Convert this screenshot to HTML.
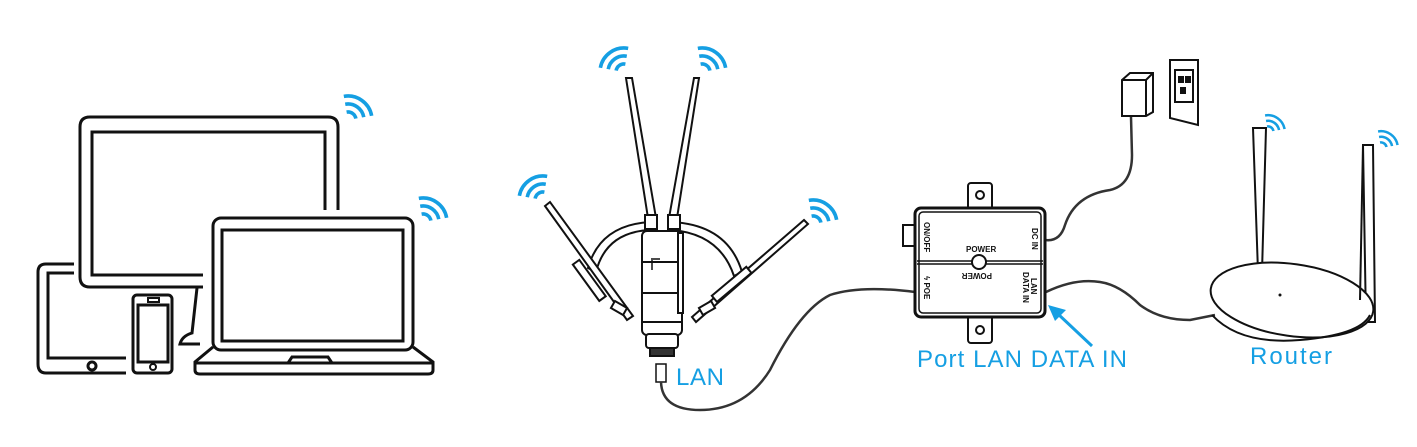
<!DOCTYPE html>
<html><head><meta charset="utf-8"><style>
html,body{margin:0;padding:0;background:#fff;}
svg{display:block;}
text{font-family:"Liberation Sans",sans-serif;}
</style></head><body>
<svg width="1417" height="447" viewBox="0 0 1417 447" xmlns="http://www.w3.org/2000/svg">
<defs>
<g id="wr" fill="none" stroke="#159fe3" stroke-width="3.6" stroke-linecap="butt">
<path d="M 0 -8 A 8 8 0 0 1 8 0"/>
<path d="M 0 -16 A 16 16 0 0 1 16 0"/>
<path d="M 0 -24 A 24 24 0 0 1 24 0"/>
</g>
</defs>
<!-- wifi icons -->
<use href="#wr" transform="translate(348,120) rotate(-10)"/>
<use href="#wr" transform="translate(423,222) rotate(-10)"/>
<use href="#wr" transform="translate(624,72) rotate(-80)"/>
<use href="#wr" transform="translate(702,72) rotate(-10)"/>
<use href="#wr" transform="translate(543,200) rotate(-80)"/>
<use href="#wr" transform="translate(813,224) rotate(-10)"/>
<use href="#wr" transform="translate(1268,132) rotate(-10) scale(0.7)"/>
<use href="#wr" transform="translate(1381,148) rotate(-10) scale(0.7)"/>

<g fill="none" stroke="#111" stroke-width="3">
<!-- tablet -->
<path d="M 74 264 H 46 Q 38 264 38 272 V 364 Q 38 373 46 373 H 126"/>
<path d="M 74 273 H 48 V 358 H 126"/>
<circle cx="92" cy="366" r="4"/>
<!-- monitor -->
<path d="M 203 287 H 90 Q 80 287 80 277 V 127 Q 80 117 90 117 H 328 Q 338 117 338 127 V 210"/>
<path d="M 203 275 H 92 V 132 H 325 V 210"/>
<path d="M 197 288 L 192 333 Q 182 336 180 344 H 200"/>
<!-- phone -->
<rect x="133" y="295" width="39" height="78" rx="4"/>
<rect x="138" y="305" width="30" height="57"/>
<rect x="148" y="298" width="11" height="4" stroke-width="2"/>
<circle cx="153" cy="367" r="3" stroke-width="2"/>
<!-- laptop -->
<rect x="213" y="218" width="200" height="132" rx="8"/>
<rect x="222" y="230" width="181" height="111"/>
<path d="M 213 347 L 195 362 V 370 Q 195 374 200 374 H 428 Q 433 374 433 370 V 362 L 413 347"/>
<path d="M 196 363 H 432"/>
<path d="M 288 363 L 292 357 H 328 L 332 363"/>
</g>

<!-- AP device -->
<g stroke="#111" stroke-width="2" fill="#fff">
<path d="M 588 268 Q 600 225 650 222 L 650 230 Q 606 232 596 272 Z"/>
<path d="M 742 272 Q 728 225 672 222 L 672 230 Q 720 234 734 276 Z"/>
<path d="M 626 78 L 632 78 L 656 218 L 648 218 Z"/>
<path d="M 694 78 L 699 78 L 677 218 L 669 218 Z"/>
<rect x="645" y="215" width="12" height="14"/>
<rect x="668" y="215" width="12" height="14"/>
<path d="M 545 206 L 550 202 L 633 316 L 627 320 Z"/>
<path d="M 804 220 L 808 224 L 696 322 L 692 317 Z"/>
<rect x="585" y="258" width="8" height="45" transform="rotate(-36 589 280)"/>
<rect x="728" y="262" width="8" height="45" transform="rotate(50 732 284)"/>
<rect x="642" y="231" width="40" height="104" rx="5"/>
<path d="M 642 262 H 682 M 642 293 H 682 M 642 322 H 682" fill="none"/>
<rect x="678" y="233" width="5" height="80"/>
<rect x="646" y="334" width="32" height="14" rx="3"/>
<rect x="650" y="348" width="24" height="8" fill="#333"/>
<rect x="656" y="364" width="10" height="18" stroke-width="1.5"/>
<rect x="612" y="304" width="14" height="8" transform="rotate(30 619 308)"/>
<rect x="700" y="304" width="14" height="8" transform="rotate(-30 707 308)"/>
</g>
<g stroke="#111" stroke-width="1.5"><path d="M 652 258 V 270 M 653 259 H 660" fill="none"/></g>

<!-- cables -->
<g fill="none" stroke="#333" stroke-width="2.5">
<path d="M 661 382 Q 662 410 700 410 Q 745 410 770 370 Q 800 310 830 295 Q 860 285 915 292"/>
<path d="M 1046 292 Q 1075 278 1100 282 Q 1120 285 1140 305 Q 1160 320 1190 320 L 1215 315"/>
<path d="M 1045 240 Q 1060 242 1065 225 Q 1075 195 1110 190 Q 1132 185 1132 155 L 1131 117"/>
</g>

<!-- power adapter & wall -->
<g fill="#fff" stroke="#111" stroke-width="2">
<path d="M 1122 80 L 1130 73 H 1153 V 112 L 1146 116 H 1122 Z"/>
<path d="M 1146 80 V 116 M 1122 80 H 1146 L 1153 73" fill="none"/>
<path d="M 1170 60 H 1198 V 125 L 1170 118 Z"/>
<rect x="1175" y="70" width="18" height="32"/>
<rect x="1179" y="77" width="4" height="5" fill="#111"/><rect x="1186" y="77" width="4" height="5" fill="#111"/><rect x="1181" y="88" width="4" height="5" fill="#111"/>
</g>

<!-- PoE box -->
<g stroke="#111" fill="#fff">
<rect x="968" y="183" width="24" height="30" rx="3" stroke-width="2"/>
<rect x="968" y="312" width="24" height="31" rx="3" stroke-width="2"/>
<rect x="903" y="225" width="14" height="21" stroke-width="2"/>
<rect x="915" y="208" width="130" height="109" rx="6" stroke-width="3"/>
<rect x="919" y="212" width="122" height="101" rx="4" stroke-width="1.5"/>
<path d="M 917 261 H 1043 M 917 264 H 1043" stroke-width="1.5" fill="none"/>
<circle cx="980" cy="195" r="4" stroke-width="2"/>
<circle cx="980" cy="330" r="4" stroke-width="2"/>
<circle cx="979" cy="262" r="7" stroke-width="2"/>
</g>
<g font-size="8" font-weight="bold" fill="#111">
<text transform="translate(924,222) rotate(90)">ON/OFF</text>
<text transform="translate(1032,228) rotate(90)">DC IN</text>
<text transform="translate(924,276) rotate(90)">ϟ POE</text>
<text transform="translate(1031,278) rotate(90)">LAN</text>
<text transform="translate(1023,272) rotate(90)">DATA IN</text>
<text x="966" y="252" font-size="8">POWER</text>
<text transform="translate(992,273) rotate(180)" font-size="8">POWER</text>
</g>

<!-- router -->
<g stroke="#111" stroke-width="2" fill="#fff">
<path d="M 1253 128 H 1266 L 1262 272 H 1258 Z"/>
<path d="M 1363 145 H 1373 L 1375 322 H 1366 Z"/>
<ellipse cx="1292" cy="300" rx="82" ry="36" transform="rotate(8 1292 300)"/>
<path d="M 1212 315 Q 1240 345 1300 340 Q 1360 335 1370 315" fill="none"/>
<path d="M 1363 145 L 1360 300" fill="none"/>
</g>
<circle cx="1280" cy="295" r="1.5" fill="#111"/>

<!-- arrow -->
<g stroke="#159fe3" fill="#159fe3">
<line x1="1092" y1="346" x2="1058" y2="314" stroke-width="3"/>
<path d="M 1048 305 L 1066 310 L 1055 321 Z" stroke="none"/>
</g>
<g fill="#159fe3" font-size="24">
<text x="676" y="385" textLength="48">LAN</text>
<text x="917" y="367" textLength="210">Port LAN DATA IN</text>
<text x="1250" y="364" textLength="82">Router</text>
</g>
</svg>
</body></html>
